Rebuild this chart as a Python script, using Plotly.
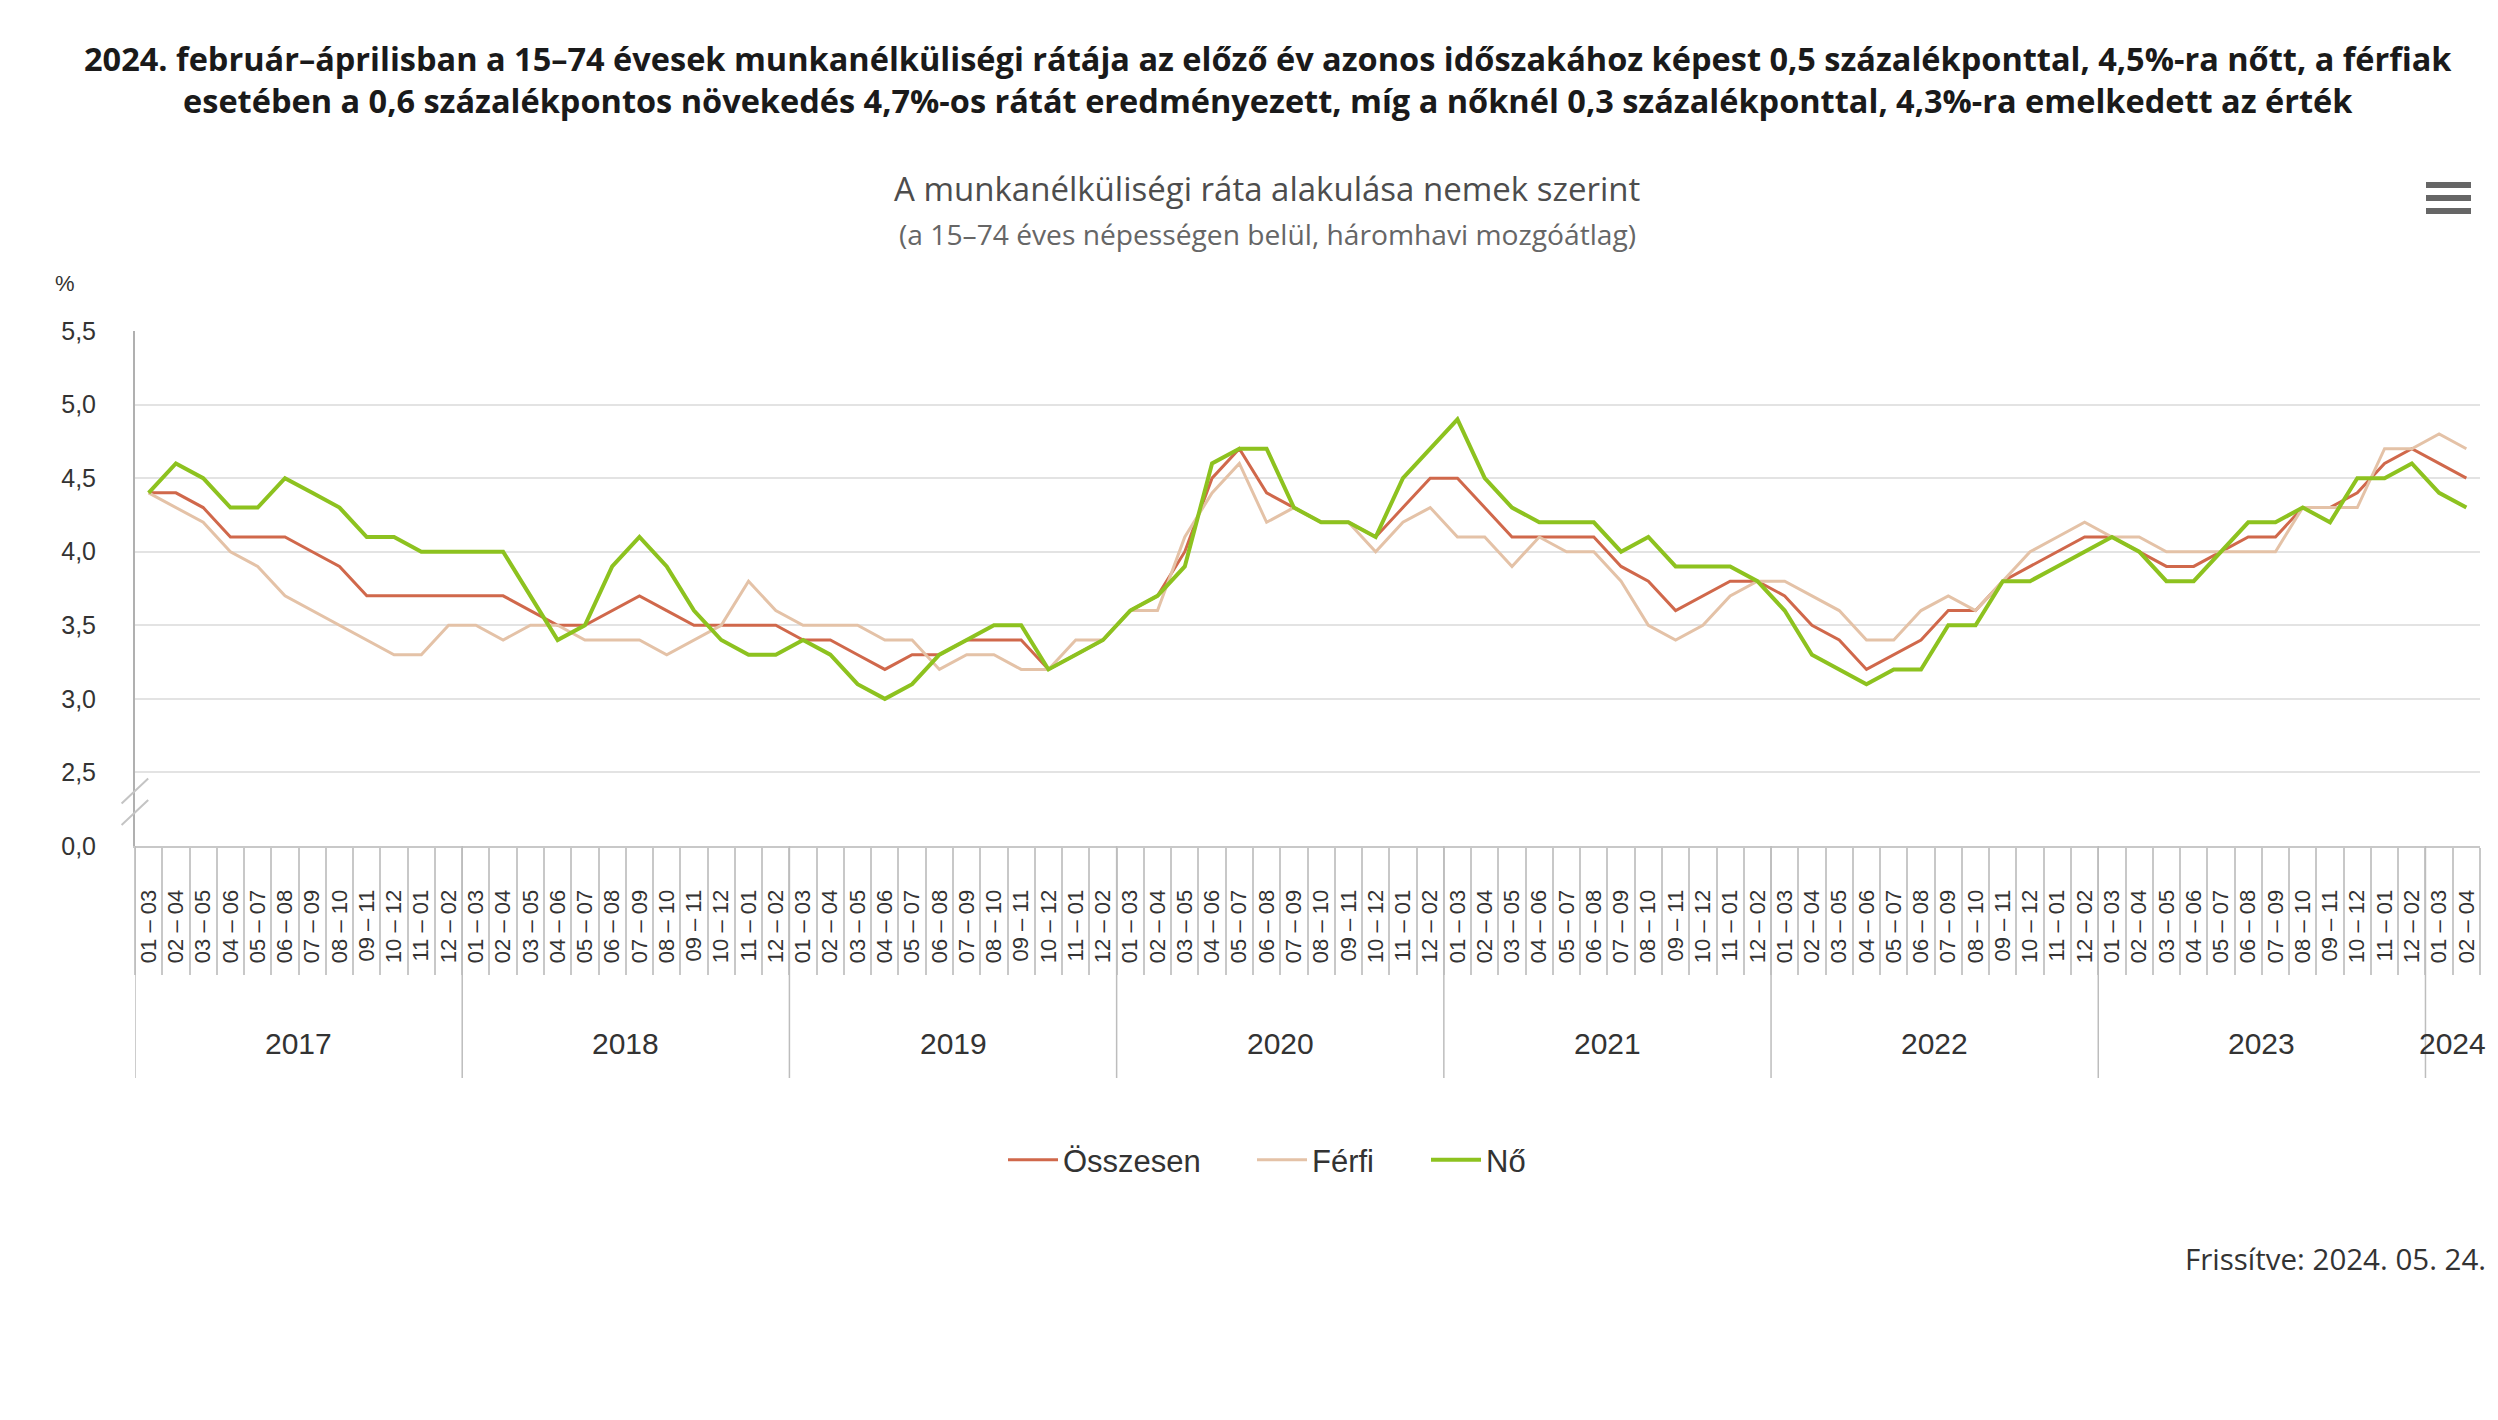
import plotly.graph_objects as go

# --- data -------------------------------------------------------------
years = ["2017", "2018", "2019", "2020", "2021", "2022", "2023", "2024"]
months_per_year = [12, 12, 12, 12, 12, 12, 12, 2]
periods = ["01 – 03", "02 – 04", "03 – 05", "04 – 06", "05 – 07", "06 – 08",
           "07 – 09", "08 – 10", "09 – 11", "10 – 12", "11 – 01", "12 – 02"]

osszesen = [4.4, 4.4, 4.3, 4.1, 4.1, 4.1, 4.0, 3.9, 3.7, 3.7, 3.7, 3.7,
            3.7, 3.7, 3.6, 3.5, 3.5, 3.6, 3.7, 3.6, 3.5, 3.5, 3.5, 3.5,
            3.4, 3.4, 3.3, 3.2, 3.3, 3.3, 3.4, 3.4, 3.4, 3.2, 3.3, 3.4,
            3.6, 3.7, 4.0, 4.5, 4.7, 4.4, 4.3, 4.2, 4.2, 4.1, 4.3, 4.5,
            4.5, 4.3, 4.1, 4.1, 4.1, 4.1, 3.9, 3.8, 3.6, 3.7, 3.8, 3.8,
            3.7, 3.5, 3.4, 3.2, 3.3, 3.4, 3.6, 3.6, 3.8, 3.9, 4.0, 4.1,
            4.1, 4.0, 3.9, 3.9, 4.0, 4.1, 4.1, 4.3, 4.3, 4.4, 4.6, 4.7,
            4.6, 4.5]
ferfi = [4.4, 4.3, 4.2, 4.0, 3.9, 3.7, 3.6, 3.5, 3.4, 3.3, 3.3, 3.5,
         3.5, 3.4, 3.5, 3.5, 3.4, 3.4, 3.4, 3.3, 3.4, 3.5, 3.8, 3.6,
         3.5, 3.5, 3.5, 3.4, 3.4, 3.2, 3.3, 3.3, 3.2, 3.2, 3.4, 3.4,
         3.6, 3.6, 4.1, 4.4, 4.6, 4.2, 4.3, 4.2, 4.2, 4.0, 4.2, 4.3,
         4.1, 4.1, 3.9, 4.1, 4.0, 4.0, 3.8, 3.5, 3.4, 3.5, 3.7, 3.8,
         3.8, 3.7, 3.6, 3.4, 3.4, 3.6, 3.7, 3.6, 3.8, 4.0, 4.1, 4.2,
         4.1, 4.1, 4.0, 4.0, 4.0, 4.0, 4.0, 4.3, 4.3, 4.3, 4.7, 4.7,
         4.8, 4.7]
no = [4.4, 4.6, 4.5, 4.3, 4.3, 4.5, 4.4, 4.3, 4.1, 4.1, 4.0, 4.0,
      4.0, 4.0, 3.7, 3.4, 3.5, 3.9, 4.1, 3.9, 3.6, 3.4, 3.3, 3.3,
      3.4, 3.3, 3.1, 3.0, 3.1, 3.3, 3.4, 3.5, 3.5, 3.2, 3.3, 3.4,
      3.6, 3.7, 3.9, 4.6, 4.7, 4.7, 4.3, 4.2, 4.2, 4.1, 4.5, 4.7,
      4.9, 4.5, 4.3, 4.2, 4.2, 4.2, 4.0, 4.1, 3.9, 3.9, 3.9, 3.8,
      3.6, 3.3, 3.2, 3.1, 3.2, 3.2, 3.5, 3.5, 3.8, 3.8, 3.9, 4.0,
      4.1, 4.0, 3.8, 3.8, 4.0, 4.2, 4.2, 4.3, 4.2, 4.5, 4.5, 4.6,
      4.4, 4.3]

y_tick_vals = [2.0, 2.5, 3.0, 3.5, 4.0, 4.5, 5.0, 5.5]
y_tick_text = ["0,0", "2,5", "3,0", "3,5", "4,0", "4,5", "5,0", "5,5"]

title_text = ("2024. február–áprilisban a 15–74 évesek munkanélküliségi rátája az előző év azonos "
              "időszakához képest 0,5 százalékponttal, 4,5%-ra nőtt, a férfiak<br>esetében a 0,6 "
              "százalékpontos növekedés 4,7%-os rátát eredményezett, míg a nőknél 0,3 százalékponttal, "
              "4,3%-ra emelkedett az érték")

# --- build the category axis -----------------------------------------
month_labels = []
for y, cnt in zip(years, months_per_year):
    month_labels += periods[:cnt]
n = len(month_labels)
xs = list(range(n))

bounds = [-0.5]
for cnt in months_per_year:
    bounds.append(bounds[-1] + cnt)
year_centers = [(a + b) / 2 for a, b in zip(bounds[:-1], bounds[1:])]
month_bounds = [i - 0.5 for i in range(n + 1)]

# --- geometry ---------------------------------------------------------
W, H = 2482, 1404
L, R, T, B = 127, 10, 323, 566
PW, PH = W - L - R, H - T - B


def px(x):
    return (x - L) / PW


def py(y):
    return 1 - (y - T) / PH


FONT = "Liberation Sans, Arial, sans-serif"
OPEN = "Open Sans, sans-serif"

fig = go.Figure()
fig.add_trace(go.Scatter(x=xs, y=osszesen, name="Összesen", mode="lines", legend="legend",
                         line=dict(color="#d0684b", width=3)))
fig.add_trace(go.Scatter(x=xs, y=ferfi, name="Férfi", mode="lines", legend="legend2",
                         line=dict(color="#e4c2a7", width=3)))
fig.add_trace(go.Scatter(x=xs, y=no, name="Nő", mode="lines", legend="legend3",
                         line=dict(color="#8dc21f", width=4)))

shapes = []
# year dividers
for b in bounds[:-1]:
    shapes.append(dict(type="line", xref="x", yref="paper", x0=b, x1=b,
                       y0=0, y1=py(1070), line=dict(color="#bdbdbd", width=1.5)))
# axis break marks
for (x0, y0, x1, y1) in [(113.6, 795.6, 140.2, 770.6), (113.6, 817, 140.2, 792)]:
    shapes.append(dict(type="line", xref="paper", yref="paper",
                       x0=px(x0), y0=py(y0), x1=px(x1), y1=py(y1),
                       line=dict(color="#c4c4c4", width=2)))
# menu icon
for yy in (177, 190, 203):
    shapes.append(dict(type="line", xref="paper", yref="paper",
                       x0=px(2418), x1=px(2463), y0=py(yy), y1=py(yy),
                       line=dict(color="#666666", width=6)))

annotations = [
    dict(text=title_text, x=px(1260), y=py(71), xref="paper", yref="paper",
         showarrow=False, xanchor="center", yanchor="middle",
         font=dict(family=OPEN, size=32.5, color="#1a1a1a", weight="bold")),
    dict(text="A munkanélküliségi ráta alakulása nemek szerint", x=px(1259), y=py(180),
         xref="paper", yref="paper", showarrow=False, xanchor="center", yanchor="middle",
         font=dict(family=OPEN, size=33, color="#4d4d4d")),
    dict(text="(a 15–74 éves népességen belül, háromhavi mozgóátlag)", x=px(1259), y=py(226),
         xref="paper", yref="paper", showarrow=False, xanchor="center", yanchor="middle",
         font=dict(family=OPEN, size=28.2, color="#666666")),
    dict(text="%", x=px(57), y=py(275), xref="paper", yref="paper", showarrow=False,
         xanchor="center", yanchor="middle", font=dict(family=FONT, size=22, color="#333333")),
    dict(text="Frissítve: 2024. 05. 24.", x=px(2480), y=py(1250), xref="paper", yref="paper",
         showarrow=False, xanchor="right", yanchor="middle",
         font=dict(family=OPEN, size=29.5, color="#333333")),
]
for yr, c in zip(years, year_centers):
    annotations.append(dict(text=yr, x=c, y=py(1035), xref="x", yref="paper", showarrow=False,
                            xanchor="center", yanchor="middle",
                            font=dict(family=FONT, size=30, color="#333333")))

legend_style = dict(orientation="h", xanchor="left", y=py(1152), yanchor="middle",
                    itemwidth=50, bgcolor="rgba(0,0,0,0)",
                    font=dict(family=FONT, size=31, color="#333333"))

fig.update_layout(
    width=W, height=H,
    margin=dict(l=L, r=R, t=T, b=B),
    paper_bgcolor="white", plot_bgcolor="white",
    font=dict(family=FONT, color="#333333"),
    showlegend=True,
    legend=dict(x=px(995), **legend_style),
    legend2=dict(x=px(1244), **legend_style),
    legend3=dict(x=px(1418), **legend_style),
    xaxis=dict(range=[-0.5, n - 0.5], tickvals=xs, ticktext=month_labels, tickangle=-90,
               tickfont=dict(size=22, color="#333333"), ticks="", ticklabelstandoff=33,
               showgrid=False, zeroline=False, showline=True, linecolor="#c8c8c8", linewidth=2,
               minor=dict(tickvals=month_bounds, ticks="outside", ticklen=127,
                          tickcolor="#c8c8c8", tickwidth=1.5)),
    yaxis=dict(range=[2.0, 5.5], tickvals=y_tick_vals, ticktext=y_tick_text,
               tickfont=dict(size=25, color="#333333"), ticks="", ticklabelstandoff=32,
               showgrid=True, gridcolor="#e3e3e3", gridwidth=2, zeroline=False,
               showline=True, linecolor="#b0b0b0", linewidth=2),
    shapes=shapes, annotations=annotations,
)

fig.write_html("out.html")
